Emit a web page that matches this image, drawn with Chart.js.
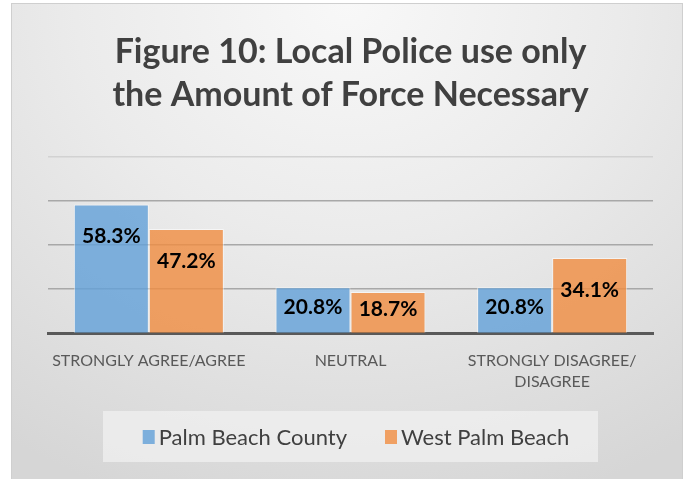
<!DOCTYPE html>
<html><head><meta charset="utf-8">
<script src="https://cdn.jsdelivr.net/npm/chart.js@4"></script>
<style>
html,body{margin:0;padding:0;background:#fff;width:691px;height:479px;overflow:hidden;}
#frame{position:absolute;left:11px;top:3px;width:672px;height:480px;border:1px solid #cfcfcf;box-sizing:border-box;
background:radial-gradient(ellipse 90% 110% at 50% 0%, #f8f8f8 0%, #ebebeb 45%, #d6d6d6 100%);}
#wrap{position:absolute;left:0;top:0;width:691px;height:479px;}
</style></head>
<body>
<div id="frame"></div>
<div id="wrap"><canvas id="c" width="691" height="479"></canvas></div>
<script>
const titleLines = ["Figure 10: Local Police use only", "the Amount of Force Necessary"];
const categories = [["STRONGLY AGREE/AGREE"], ["NEUTRAL"], ["STRONGLY DISAGREE/", "DISAGREE"]];
const seriesNames = ["Palm Beach County", "West Palm Beach"];
const palmBeachCounty = [58.3, 20.8, 20.8];
const westPalmBeach = [47.2, 18.7, 34.1];
const yTicks = [0, 20, 40, 60, 80];

const FONT = "Lato, 'Open Sans', sans-serif";

const labelPlugin = {
  id: 'barLabels',
  afterDatasetsDraw(chart) {
    const ctx = chart.ctx;
    ctx.save();
    ctx.font = "bold 21px " + FONT;
    ctx.fillStyle = "#000";
    ctx.textAlign = "center";
    ctx.textBaseline = "middle";
    chart.data.datasets.forEach((ds, di) => {
      const meta = chart.getDatasetMeta(di);
      meta.data.forEach((bar, i) => {
        const top = bar.y, base = bar.base;
        const y = Math.min(top + 32, (top + base) / 2 - 3);
        ctx.fillText(ds.data[i].toFixed(1) + "%", bar.x, y);
      });
    });
    ctx.restore();
  }
};

const legendPlugin = {
  id: 'boxLegend',
  afterDraw(chart) {
    const ctx = chart.ctx;
    ctx.save();
    ctx.fillStyle = "rgba(240,240,240,0.75)";
    ctx.fillRect(103, 411, 495, 51);
    ctx.font = "22px " + FONT;
    ctx.textBaseline = "middle";
    const box = 12, gapText = 4, gapItem = 38;
    const widths = chart.data.datasets.map(d => box + gapText + ctx.measureText(d.label).width);
    const total = widths.reduce((a, b) => a + b, 0) + gapItem * (widths.length - 1);
    let x = 356 - total / 2;
    const cy = 437;
    chart.data.datasets.forEach((d, i) => {
      ctx.fillStyle = d.backgroundColor;
      ctx.fillRect(x, cy - 7, box, 14);
      ctx.fillStyle = "#404040";
      ctx.fillText(d.label, x + box + gapText, cy + 1);
      x += widths[i] + gapItem;
    });
    ctx.restore();
  }
};

new Chart(document.getElementById('c'), {
  type: 'bar',
  data: {
    labels: categories,
    datasets: [
      { label: seriesNames[0], data: palmBeachCounty, backgroundColor: 'rgba(98,160,216,0.8)', borderColor: 'rgba(255,255,255,0.55)', borderWidth: 1 },
      { label: seriesNames[1], data: westPalmBeach, backgroundColor: 'rgba(240,140,64,0.8)', borderColor: 'rgba(255,255,255,0.55)', borderWidth: 1 }
    ]
  },
  options: {
    responsive: false,
    animation: false,
    devicePixelRatio: 1,
    layout: { padding: { left: 48, right: 38, top: 0, bottom: 70 } },
    categoryPercentage: 0.744,
    barPercentage: 1,
    plugins: {
      legend: { display: false },
      tooltip: { enabled: false },
      title: {
        display: true,
        text: titleLines,
        color: '#404040',
        font: { family: FONT, size: 34, weight: 'bold', lineHeight: 1.27 },
        padding: { top: 30, bottom: 40 }
      }
    },
    scales: {
      x: {
        grid: { display: false, drawTicks: false },
        border: { display: true, color: '#595959', width: 3 },
        ticks: { color: '#595959', font: { family: FONT, size: 16, lineHeight: 1.3 }, padding: 17, maxRotation: 0, autoSkip: false }
      },
      y: {
        min: yTicks[0], max: yTicks[yTicks.length - 1],
        afterBuildTicks: s => { s.ticks = yTicks.map(v => ({ value: v })); },
        afterFit: s => { s.width = 0; },
        ticks: { display: false },
        border: { display: false },
        grid: {
          drawTicks: false,
          color: c => c.tick && c.tick.value === 80 ? '#d2d2d2' : '#a8a8a8',
          lineWidth: 1.5
        }
      }
    }
  },
  plugins: [labelPlugin, legendPlugin]
});
</script>
</body></html>
